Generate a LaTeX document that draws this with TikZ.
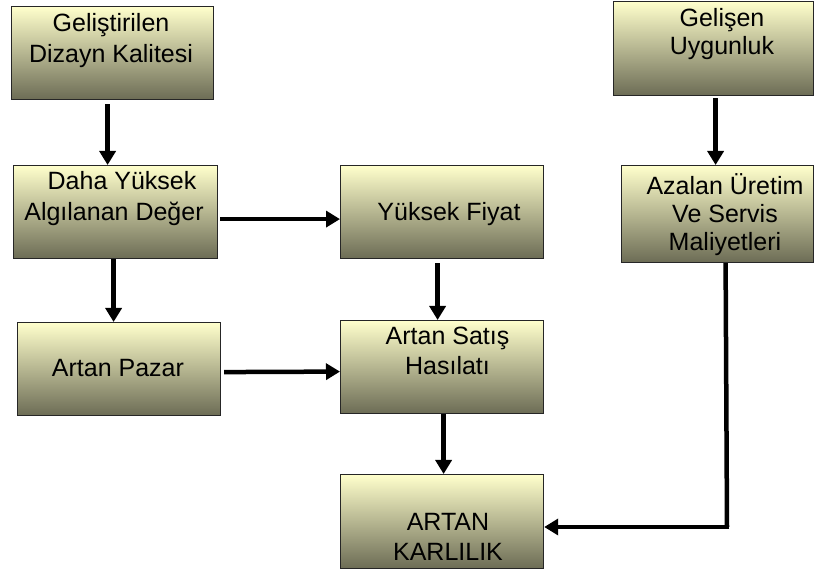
\documentclass[tikz,border=0pt]{standalone}
\usepackage{fontspec}
\setmainfont{Liberation Sans}
\usetikzlibrary{arrows.meta}
\definecolor{boxtop}{HTML}{FFFFCC}
\definecolor{boxmid}{HTML}{DCDCAE}
\definecolor{boxbot}{HTML}{6C6C55}
\tikzset{
  box/.style={draw=black!85, line width=1.2pt, top color=boxtop, middle color=boxmid,
    bottom color=boxbot, inner sep=0pt, anchor=north west},
  lbl/.style={anchor=base, inner sep=0pt, font=\fontsize{25}{29}\selectfont},
  arr/.style={line width=4.5pt, -{Triangle[width=16pt,length=14pt]}},
  link/.style={line width=4.5pt, miter limit=10}
}
\begin{document}
\begin{tikzpicture}[x=1pt,y=1pt]
\useasboundingbox (0,0) rectangle (814,572);
% boxes (top-left corner, size)
\node[box, minimum width=202pt, minimum height=93pt] (b1) at (11,566) {};
\node[box, minimum width=200pt, minimum height=94pt] (b7) at (613,571) {};
\node[box, minimum width=204pt, minimum height=93pt] (b2) at (13,407) {};
\node[box, minimum width=203pt, minimum height=93pt] (b4) at (340,407) {};
\node[box, minimum width=192pt, minimum height=97pt] (b8) at (621,407) {};
\node[box, minimum width=203pt, minimum height=93pt] (b3) at (17,250) {};
\node[box, minimum width=203pt, minimum height=93pt] (b5) at (340,252) {};
\node[box, minimum width=203pt, minimum height=94pt] (b6) at (340,98) {};
% labels
\node[lbl] (t1a) at (111,540) {Geliştirilen};
\node[lbl] (t1b) at (111,509) {Dizayn Kalitesi};
\node[lbl] (t7a) at (722,545) {Gelişen};
\node[lbl] (t7b) at (722,517) {Uygunluk};
\node[lbl] (t2a) at (122,382) {Daha Yüksek};
\node[lbl] (t2b) at (114,351) {Algılanan Değer};
\node[lbl] (t4a) at (449,351) {Yüksek Fiyat};
\node[lbl] (t8a) at (725,377) {Azalan Üretim};
\node[lbl] (t8b) at (725,349) {Ve Servis};
\node[lbl] (t8c) at (725,321) {Maliyetleri};
\node[lbl] (t3a) at (118,195) {Artan Pazar};
\node[lbl] (t5a) at (447.5,227) {Artan Satış};
\node[lbl] (t5b) at (447.5,197) {Hasılatı};
\node[lbl] (t6a) at (448,41) {ARTAN};
\node[lbl] (t6b) at (448,11) {KARLILIK};
% connectors
\draw[arr] ([xshift=-5pt,yshift=-4pt]b1.south) -- ([xshift=-8pt]b2.north);
\draw[arr] ([xshift=2pt,yshift=-7pt]b2.east) -- ([yshift=-7pt]b4.west);
\draw[arr] ([xshift=-2pt]b2.south) -- ([xshift=-5.5pt]b3.north);
\draw[arr] ([xshift=-4.5pt,yshift=-4pt]b4.south) -- ([xshift=-4.5pt]b5.north);
\draw[arr] ([xshift=3pt,yshift=-3pt]b3.east) -- ([yshift=-4.5pt]b5.west);
\draw[arr] ([xshift=1.5pt]b5.south) -- ([xshift=1.5pt]b6.north);
\draw[arr] ([xshift=2pt,yshift=-2pt]b7.south) -- ([xshift=-2pt]b8.north);
\coordinate (c8) at (727,45);
\draw[link] ([xshift=8pt]b8.south) -- (c8);
\draw[arr] ([xshift=2.25pt]c8) -- (c8 -| b6.east);
\end{tikzpicture}
\end{document}
